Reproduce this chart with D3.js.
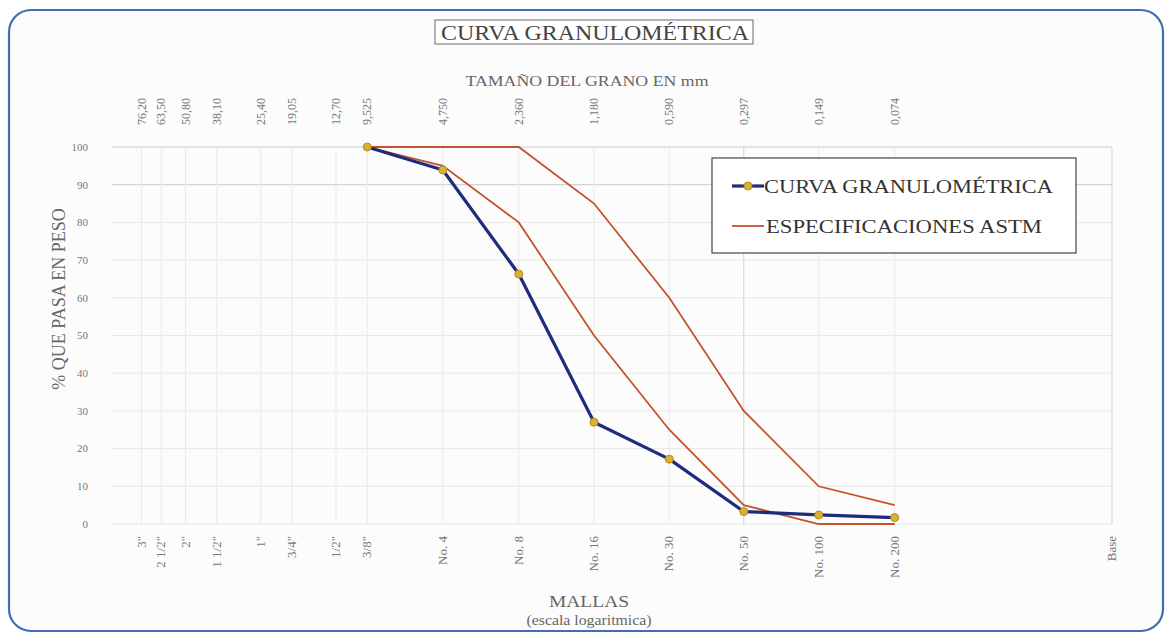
<!DOCTYPE html>
<html>
<head>
<meta charset="utf-8">
<script src="https://cdn.jsdelivr.net/npm/d3@7"></script>
<style>
  html, body { margin: 0; padding: 0; background: #ffffff; }
  svg { display: block; font-family: "Liberation Serif", "DejaVu Serif", serif; }
</style>
</head>
<body>
<svg id="chart" width="1165" height="633"></svg>
<script>
// Tamices (mallas) y su abertura en mm
const mallas = ['3"', '2 1/2"', '2"', '1 1/2"', '1"', '3/4"', '1/2"', '3/8"',
  'No. 4', 'No. 8', 'No. 16', 'No. 30', 'No. 50', 'No. 100', 'No. 200', 'Base'];
const aberturas = [76.2, 63.5, 50.8, 38.1, 25.4, 19.05, 12.7, 9.525,
  4.75, 2.36, 1.18, 0.59, 0.297, 0.149, 0.074, 0.01];
const aberturasTexto = ['76,20', '63,50', '50,80', '38,10', '25,40', '19,05', '12,70', '9,525',
  '4,750', '2,360', '1,180', '0,590', '0,297', '0,149', '0,074'];

// Ensayo: % que pasa por tamiz
const tamicesEnsayo = [9.525, 4.75, 2.36, 1.18, 0.59, 0.297, 0.149, 0.074];
const pasaEnsayo = [100, 93.9, 66.3, 27.0, 17.2, 3.3, 2.4, 1.7];

// Especificaciones ASTM (límite superior e inferior)
const astmMax = [100, 100, 100, 85, 60, 30, 10, 5];
const astmMin = [100, 95, 80, 50, 25, 5, 0, 0];

const yTicks = [0, 10, 20, 30, 40, 50, 60, 70, 80, 90, 100];

const svg = d3.select('#chart');

// Marco redondeado
svg.append('rect')
  .attr('x', 9).attr('y', 10).attr('width', 1154).attr('height', 621)
  .attr('rx', 22).attr('ry', 22)
  .attr('fill', '#fcfcfd').attr('stroke', '#3f6fb2').attr('stroke-width', 2.2);

const x = d3.scaleLog().domain([100, 0.01]).range([112, 1112]);
const y = d3.scaleLinear().domain([0, 100]).range([524, 147]);

const plot = svg.append('g');

// Cuadrícula horizontal
plot.selectAll('line.hgrid').data(yTicks).join('line')
  .attr('class', 'hgrid')
  .attr('x1', x(100)).attr('x2', x(0.01))
  .attr('y1', d => y(d)).attr('y2', d => y(d))
  .attr('stroke', d => d >= 90 ? '#cbcbcb' : '#e8e8e8')
  .attr('stroke-width', 1);

// Cuadrícula vertical
plot.selectAll('line.vgrid').data(aberturas).join('line')
  .attr('class', 'vgrid')
  .attr('x1', d => x(d)).attr('x2', d => x(d))
  .attr('y1', y(100)).attr('y2', y(0))
  .attr('stroke', d => (d === 0.297 || d === 0.01) ? '#d2d2d2' : '#ebebeb')
  .attr('stroke-width', 1);

// Eje Y
svg.append('g')
  .selectAll('text').data(yTicks).join('text')
  .attr('x', 88).attr('y', d => y(d))
  .attr('dy', '0.35em')
  .attr('text-anchor', 'end')
  .attr('font-size', 11).attr('fill', '#777')
  .text(d => d);

svg.append('text')
  .attr('transform', 'translate(65,299) rotate(-90)')
  .attr('text-anchor', 'middle')
  .attr('font-size', 18).attr('fill', '#666')
  .text('% QUE PASA EN PESO');

// Eje superior: abertura en mm
svg.append('g')
  .selectAll('text').data(aberturasTexto).join('text')
  .attr('transform', (d, i) => `translate(${x(aberturas[i]) + 4},125) rotate(-90)`)
  .attr('text-anchor', 'start')
  .attr('font-size', 12).attr('fill', '#777')
  .text(d => d);

svg.append('text')
  .attr('x', 587).attr('y', 86)
  .attr('text-anchor', 'middle')
  .attr('font-size', 15).attr('fill', '#666')
  .attr('textLength', 243).attr('lengthAdjust', 'spacingAndGlyphs')
  .text('TAMAÑO DEL GRANO EN mm');

// Eje inferior: mallas
svg.append('g')
  .selectAll('text').data(mallas).join('text')
  .attr('transform', (d, i) => `translate(${x(aberturas[i]) + 4},536) rotate(-90)`)
  .attr('text-anchor', 'end')
  .attr('font-size', 13).attr('fill', '#777')
  .text(d => d);

svg.append('text')
  .attr('x', 589).attr('y', 607)
  .attr('text-anchor', 'middle')
  .attr('font-size', 16).attr('fill', '#666')
  .attr('textLength', 80).attr('lengthAdjust', 'spacingAndGlyphs')
  .text('MALLAS');
svg.append('text')
  .attr('x', 589).attr('y', 625)
  .attr('text-anchor', 'middle')
  .attr('font-size', 14).attr('fill', '#666')
  .attr('textLength', 125).attr('lengthAdjust', 'spacingAndGlyphs')
  .text('(escala logaritmica)');

// Título
const title = svg.append('g');
title.append('rect')
  .attr('x', 435).attr('y', 20).attr('width', 318).attr('height', 24)
  .attr('fill', '#ffffff').attr('stroke', '#666').attr('stroke-width', 1);
title.append('text')
  .attr('x', 595).attr('y', 40)
  .attr('text-anchor', 'middle')
  .attr('font-size', 20).attr('fill', '#444')
  .attr('textLength', 308).attr('lengthAdjust', 'spacingAndGlyphs')
  .text('CURVA GRANULOMÉTRICA');

// Curvas
const line = d3.line().x(d => x(d[0])).y(d => y(d[1]));
const orange = '#c4532b';
const navy = '#1f2c7c';

plot.append('path')
  .datum(tamicesEnsayo.map((t, i) => [t, astmMax[i]]))
  .attr('d', line).attr('fill', 'none')
  .attr('stroke', orange).attr('stroke-width', 1.8);
plot.append('path')
  .datum(tamicesEnsayo.map((t, i) => [t, astmMin[i]]))
  .attr('d', line).attr('fill', 'none')
  .attr('stroke', orange).attr('stroke-width', 1.8);

const ensayo = tamicesEnsayo.map((t, i) => [t, pasaEnsayo[i]]);
plot.append('path')
  .datum(ensayo)
  .attr('d', line).attr('fill', 'none')
  .attr('stroke', navy).attr('stroke-width', 3.2)
  .attr('stroke-linejoin', 'round');
plot.selectAll('circle.pt').data(ensayo).join('circle')
  .attr('class', 'pt')
  .attr('cx', d => x(d[0])).attr('cy', d => y(d[1]))
  .attr('r', 4)
  .attr('fill', '#d8b234').attr('stroke', '#b88a1c').attr('stroke-width', 1);

// Leyenda
const lg = svg.append('g');
lg.append('rect')
  .attr('x', 712).attr('y', 158).attr('width', 364).attr('height', 95)
  .attr('fill', '#ffffff').attr('stroke', '#444').attr('stroke-width', 1.2);
lg.append('line')
  .attr('x1', 732).attr('x2', 764).attr('y1', 186).attr('y2', 186)
  .attr('stroke', navy).attr('stroke-width', 3.2);
lg.append('circle')
  .attr('cx', 748).attr('cy', 186).attr('r', 4)
  .attr('fill', '#d8b234').attr('stroke', '#b88a1c').attr('stroke-width', 1);
lg.append('text')
  .attr('x', 764).attr('y', 186).attr('dy', '0.35em')
  .attr('font-size', 19).attr('fill', '#333')
  .attr('textLength', 289).attr('lengthAdjust', 'spacingAndGlyphs')
  .text('CURVA GRANULOMÉTRICA');
lg.append('line')
  .attr('x1', 732).attr('x2', 764).attr('y1', 226).attr('y2', 226)
  .attr('stroke', orange).attr('stroke-width', 1.8);
lg.append('text')
  .attr('x', 766).attr('y', 226).attr('dy', '0.35em')
  .attr('font-size', 19).attr('fill', '#333')
  .attr('textLength', 276).attr('lengthAdjust', 'spacingAndGlyphs')
  .text('ESPECIFICACIONES ASTM');
</script>
</body>
</html>
